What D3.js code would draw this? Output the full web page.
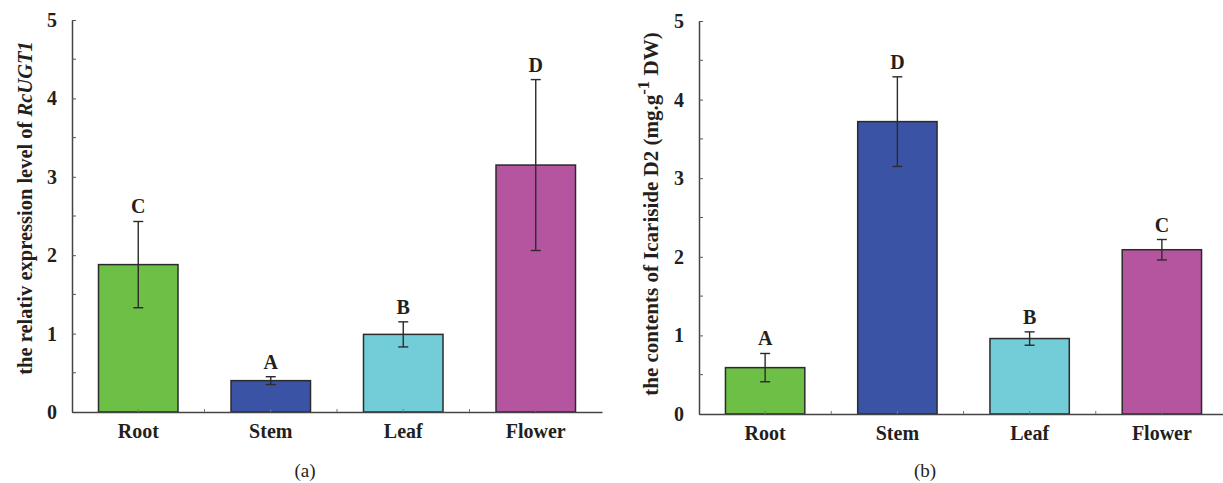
<!DOCTYPE html>
<html>
<head>
<meta charset="utf-8">
<script src="https://cdn.jsdelivr.net/npm/d3@7"></script>
<style>
  body { margin: 0; background: #fff; }
  svg { display: block; }
  text { font-family: 'Liberation Serif', 'DejaVu Serif', serif; fill: #231f20; }
</style>
</head>
<body>
<div id="vis"></div>
<script>
const categories = ['Root', 'Stem', 'Leaf', 'Flower']
const colors = ['#6dbf45', '#3b53a4', '#72cdd8', '#b5549f']

const exprMean = [1.88, 0.40, 0.99, 3.15]
const exprErr = [0.55, 0.05, 0.16, 1.09]
const exprLetters = ['C', 'A', 'B', 'D']

const contMean = [0.59, 3.72, 0.96, 2.09]
const contErr = [0.18, 0.57, 0.085, 0.13]
const contLetters = ['A', 'D', 'B', 'C']

const yTicks = [0, 1, 2, 3, 4, 5]
const yMinorTicks = [0.5, 1.5, 2.5, 3.5, 4.5]

const width = 1223
const height = 483

const svg = d3.select('#vis').append('svg')
  .attr('width', width).attr('height', height)

const drawPanel = (opts) => {
  const { left, top, bottom, right, means, errs, letters, tag, tagX } = opts

  const x = d3.scaleBand()
    .domain(categories)
    .range([left, right])
    .paddingInner(0)

  const y = d3.scaleLinear()
    .domain([0, 5])
    .range([bottom, top])

  const g = svg.append('g')
  const barW = x.bandwidth() * 0.6

  // bars
  g.selectAll('rect.bar')
    .data(categories)
    .join('rect')
    .attr('class', 'bar')
    .attr('x', (d) => x(d) + (x.bandwidth() - barW) / 2)
    .attr('y', (d, i) => y(means[i]))
    .attr('width', barW)
    .attr('height', (d, i) => y(0) - y(means[i]))
    .attr('fill', (d, i) => colors[i])
    .attr('stroke', '#2b2b2b')
    .attr('stroke-width', 1.5)

  // error bars
  const cap = 5
  categories.forEach((c, i) => {
    const cx = x(c) + x.bandwidth() / 2
    const hi = y(means[i] + errs[i])
    const lo = y(means[i] - errs[i])
    g.append('line').attr('x1', cx).attr('x2', cx).attr('y1', hi).attr('y2', lo)
      .attr('stroke', '#2b2b2b').attr('stroke-width', 1.4)
    g.append('line').attr('x1', cx - cap).attr('x2', cx + cap).attr('y1', hi).attr('y2', hi)
      .attr('stroke', '#2b2b2b').attr('stroke-width', 1.4)
    g.append('line').attr('x1', cx - cap).attr('x2', cx + cap).attr('y1', lo).attr('y2', lo)
      .attr('stroke', '#2b2b2b').attr('stroke-width', 1.4)
    g.append('text')
      .attr('x', cx)
      .attr('y', hi - 8)
      .attr('text-anchor', 'middle')
      .attr('font-size', 20)
      .attr('font-weight', 'bold')
      .text(letters[i])
  })

  // y axis
  const yAxis = d3.axisLeft(y)
    .tickValues(yTicks)
    .tickSizeInner(-4)
    .tickSizeOuter(0)
    .tickPadding(15)
    .tickFormat(d3.format('d'))
  const ya = g.append('g')
    .attr('transform', `translate(${left},0)`)
    .call(yAxis)
  ya.selectAll('text')
    .attr('font-size', 20)
    .attr('font-weight', 'bold')
    .attr('font-family', "'Liberation Serif', serif")
    .attr('fill', '#231f20')
  ya.selectAll('.tick line').attr('stroke', '#555')
  ya.select('.domain').attr('stroke', '#444').attr('stroke-width', 1.5)

  g.append('g')
    .selectAll('line')
    .data(yMinorTicks)
    .join('line')
    .attr('x1', left).attr('x2', left + 4)
    .attr('y1', (d) => y(d)).attr('y2', (d) => y(d))
    .attr('stroke', '#555')

  // x axis
  const xAxis = d3.axisBottom(x)
    .tickSizeInner(-3)
    .tickSizeOuter(0)
    .tickPadding(12)
  const xa = g.append('g')
    .attr('transform', `translate(0,${bottom})`)
    .call(xAxis)
  xa.selectAll('text')
    .attr('font-size', 20)
    .attr('font-weight', 'bold')
    .attr('font-family', "'Liberation Serif', serif")
    .attr('fill', '#231f20')
  xa.selectAll('.tick line').attr('stroke', '#777')
  xa.select('.domain').attr('stroke', '#444').attr('stroke-width', 1.5)

  g.append('g')
    .selectAll('line')
    .data(categories.slice(1))
    .join('line')
    .attr('x1', (d) => x(d)).attr('x2', (d) => x(d))
    .attr('y1', bottom).attr('y2', bottom - 3)
    .attr('stroke', '#777')

  // panel tag
  g.append('text')
    .attr('x', tagX)
    .attr('y', 477)
    .attr('text-anchor', 'middle')
    .attr('font-size', 19)
    .text(tag)

  return g
}

const ga = drawPanel({
  left: 72, right: 602, top: 20, bottom: 412,
  means: exprMean, errs: exprErr, letters: exprLetters,
  tag: '(a)', tagX: 305
})

const ta = ga.append('text')
  .attr('transform', 'translate(32,208) rotate(-90)')
  .attr('text-anchor', 'middle')
  .attr('font-size', 20.5)
  .attr('font-weight', 'bold')
ta.append('tspan').text('the relativ expression level of ')
ta.append('tspan').attr('font-style', 'italic').text('RcUGT1')

const gb = drawPanel({
  left: 699, right: 1228, top: 21, bottom: 414,
  means: contMean, errs: contErr, letters: contLetters,
  tag: '(b)', tagX: 925
})

const tb = gb.append('text')
  .attr('transform', 'translate(658,214) rotate(-90)')
  .attr('text-anchor', 'middle')
  .attr('font-size', 21)
  .attr('font-weight', 'bold')
tb.append('tspan').text('the contents of Icariside D2 (mg.g')
tb.append('tspan').attr('dy', -9).attr('font-size', 17).text('-1')
tb.append('tspan').attr('dy', 9).text(' DW)')
</script>
</body>
</html>
